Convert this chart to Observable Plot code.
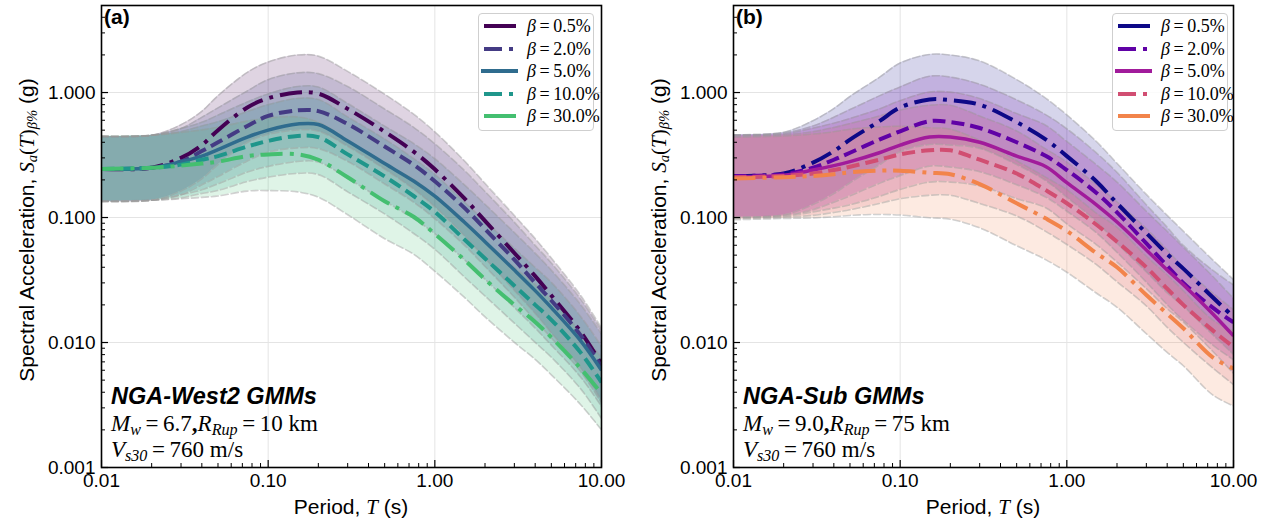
<!DOCTYPE html>
<html><head><meta charset="utf-8">
<script src="https://cdn.jsdelivr.net/npm/d3@7"></script>
<script src="https://cdn.jsdelivr.net/npm/@observablehq/plot@0.6"></script>
<style>
body{margin:0;background:#fff;}
#wrap{position:relative;width:1273px;height:523px;overflow:hidden;font-family:"Liberation Sans",Arial,sans-serif;color:#000;}
.panel{position:absolute;top:0;}
.ov{position:absolute;white-space:nowrap;line-height:1;}
.serif{font-family:"Liberation Serif","Times New Roman",serif;}
.mi{font-family:"Liberation Serif","Times New Roman",serif;font-style:italic;}
sub{font-size:0.7em;vertical-align:-0.22em;line-height:0;}
.legend{position:absolute;border:1px solid #cfcfcf;border-radius:4px;background:rgba(255,255,255,0.85);}
.legtxt{position:absolute;font-family:"Liberation Serif","Times New Roman",serif;font-size:18px;line-height:1;white-space:nowrap;}
</style></head>
<body><div id="wrap"></div>
<script>
// ---------- data ----------
const periods = [0.01,0.02,0.03,0.04,0.05,0.075,0.1,0.15,0.2,0.3,0.5,0.75,1,1.5,2,3,4,5,7.5,10];
const betaLabels = ["0.5%","2.0%","5.0%","10.0%","30.0%"];

// (a) NGA-West2 medians
const westB05  = [0.245,0.25,0.30,0.38,0.50,0.76,0.90,1.00,0.98,0.74,0.486,0.335,0.243,0.143,0.094,0.052,0.034,0.0238,0.0122,0.0067];
const westB20  = [0.245,0.25,0.28,0.34,0.40,0.54,0.65,0.72,0.71,0.56,0.37,0.263,0.195,0.12,0.081,0.046,0.030,0.0217,0.0114,0.0064];
const westB50  = [0.245,0.25,0.28,0.31,0.35,0.44,0.50,0.56,0.555,0.41,0.27,0.195,0.148,0.092,0.064,0.038,0.026,0.019,0.0103,0.006];
const westB100 = [0.245,0.25,0.265,0.29,0.31,0.37,0.41,0.45,0.44,0.32,0.213,0.148,0.111,0.067,0.047,0.0285,0.020,0.0152,0.0083,0.0048];
const westB300 = [0.245,0.25,0.26,0.27,0.28,0.31,0.32,0.32,0.29,0.21,0.135,0.101,0.074,0.046,0.032,0.020,0.0146,0.011,0.0062,0.0039];
// (a) log10 half-width of shaded bands
const westDisp = [0.26,0.26,0.265,0.27,0.275,0.28,0.29,0.3,0.3,0.3,0.3,0.3,0.3,0.3,0.3,0.3,0.3,0.3,0.29,0.29];

// (b) NGA-Sub medians
const subB05  = [0.215,0.225,0.275,0.34,0.42,0.59,0.76,0.88,0.87,0.80,0.58,0.42,0.31,0.195,0.13,0.075,0.051,0.039,0.023,0.016];
const subB20  = [0.215,0.222,0.25,0.29,0.33,0.42,0.49,0.59,0.58,0.52,0.40,0.31,0.24,0.158,0.11,0.062,0.041,0.03,0.019,0.0145];
const subB50  = [0.212,0.218,0.24,0.26,0.28,0.33,0.38,0.44,0.44,0.40,0.31,0.255,0.19,0.127,0.092,0.055,0.038,0.029,0.017,0.0113];
const subB100 = [0.21,0.215,0.225,0.24,0.255,0.29,0.32,0.345,0.345,0.29,0.225,0.165,0.13,0.088,0.064,0.04,0.027,0.02,0.0125,0.0092];
const subB300 = [0.205,0.21,0.215,0.222,0.23,0.237,0.237,0.228,0.222,0.185,0.13,0.098,0.078,0.052,0.04,0.024,0.017,0.013,0.0076,0.0062];
const subDisp = [0.33,0.33,0.335,0.34,0.345,0.35,0.355,0.36,0.36,0.35,0.34,0.33,0.33,0.32,0.32,0.31,0.31,0.3,0.3,0.3];

const xTickValues = [0.01,0.1,1,10];
const xTickLabels = ["0.01","0.10","1.00","10.00"];
const yTickValues = [0.001,0.01,0.1,1];
const yTickLabels = ["0.001","0.010","0.100","1.000"];

// ---------- styles ----------
const cmapPos = [0,0.175,0.35,0.525,0.7];
const westColors = cmapPos.map(t => d3.interpolateViridis(t));
const subColors = cmapPos.map(t => d3.interpolatePlasma(t));
const lineDash = ["22,7,4,7","13,6",null,"13,6","22,7,4,7"];
const lineWidth = [4,4,3.5,4,4];

function minorTicks(lo, hi){
  const out=[];
  for(let e=lo;e<hi;e++) for(let m=2;m<=9;m++) out.push(m*Math.pow(10,e));
  return out;
}
const xMinor = minorTicks(-2,1);
const yMinor = minorTicks(-3,1).filter(v => v < 5);

function makePanel(cfg){
  const rows=[];
  cfg.series.forEach((s,i)=>s.forEach((v,j)=>{
    const f=Math.pow(10,cfg.disp[j]);
    rows.push({T:periods[j],k:i,sa:v,lo:v/f,hi:v*f});
  }));
  const curve="catmull-rom";
  const marks=[
    Plot.gridX(xTickValues,{stroke:"#e4e4e4",strokeOpacity:1,strokeWidth:1}),
    Plot.gridY(yTickValues,{stroke:"#e4e4e4",strokeOpacity:1,strokeWidth:1})
  ];
  betaLabels.forEach((b,i)=>{
    const d=rows.filter(r=>r.k===i);
    marks.push(Plot.areaY(d,{x:"T",y1:"lo",y2:"hi",fill:cfg.colors[i],fillOpacity:0.17,curve}));
  });
  betaLabels.forEach((b,i)=>{
    const d=rows.filter(r=>r.k===i);
    for(const key of ["lo","hi"]){
      marks.push(Plot.lineY(d,{x:"T",y:key,stroke:"#9a9a9a",strokeOpacity:0.45,strokeWidth:1.6,strokeDasharray:"7,3",curve}));
    }
  });
  betaLabels.forEach((b,i)=>{
    const d=rows.filter(r=>r.k===i);
    marks.push(Plot.lineY(d,{x:"T",y:"sa",stroke:cfg.colors[i],strokeWidth:lineWidth[i],strokeDasharray:lineDash[i],strokeLinecap:"butt",curve}));
  });
  marks.push(
    Plot.axisX(xTickValues,{anchor:"bottom",tickSize:0,tickPadding:6,fontSize:19,label:null,tickFormat:d=>xTickLabels[xTickValues.indexOf(d)]}),
    Plot.axisX(xTickValues,{anchor:"bottom",tickSize:-7,tickFormat:()=>"",label:null,strokeWidth:1.2}),
    Plot.axisX(xMinor,{anchor:"bottom",tickSize:-4,tickFormat:()=>"",label:null}),
    Plot.axisY(yTickValues,{anchor:"left",tickSize:0,tickPadding:6,fontSize:19,label:null,tickFormat:d=>yTickLabels[yTickValues.indexOf(d)]}),
    Plot.axisY(yTickValues,{anchor:"left",tickSize:-7,tickFormat:()=>"",label:null,strokeWidth:1.2}),
    Plot.axisY(yMinor,{anchor:"left",tickSize:-4,tickFormat:()=>"",label:null}),
    Plot.frame({stroke:"#000",strokeWidth:1.6})
  );
  return Plot.plot({
    width:cfg.width,height:523,marginLeft:101,marginRight:cfg.marginRight,marginTop:5,marginBottom:56,
    style:{fontFamily:'"Liberation Sans",Arial,sans-serif',background:"transparent",color:"#000"},
    x:{type:"log",domain:[0.01,10]},
    y:{type:"log",domain:[0.001,4.97]},
    clip:true,
    marks
  });
}

const wrap=document.getElementById("wrap");
function addDiv(html, style, cls){
  const d=document.createElement("div");
  d.className=cls||"ov"; d.innerHTML=html; Object.assign(d.style,style); wrap.appendChild(d); return d;
}

const panels=[
  {left:0,width:636,marginRight:35,series:[westB05,westB20,westB50,westB100,westB300],disp:westDisp,colors:westColors,
   tag:"(a)",title:"NGA-West2 GMMs",line2:'<span class="mi">M</span><sub class="mi">w</sub>\u2009=\u20096.7<b>,</b><span class="mi">R</span><sub class="mi">Rup</sub>\u2009=\u200910 km',
   legLeft:478},
  {left:632,width:641,marginRight:40,series:[subB05,subB20,subB50,subB100,subB300],disp:subDisp,colors:subColors,
   tag:"(b)",title:"NGA-Sub GMMs",line2:'<span class="mi">M</span><sub class="mi">w</sub>\u2009=\u20099.0<b>,</b><span class="mi">R</span><sub class="mi">Rup</sub>\u2009=\u200975 km',
   legLeft:1112}
];

panels.forEach(p=>{
  const svg=makePanel(p);
  const holder=document.createElement("div");
  holder.className="panel"; holder.style.left=p.left+"px";
  holder.appendChild(svg); wrap.appendChild(holder);
  const fx=p.left+101; // frame left
  addDiv(p.tag,{left:(fx+3)+"px",top:"6px",fontSize:"21px",fontWeight:"bold"});
  addDiv(p.title,{left:(fx+10)+"px",top:"385px",fontSize:"23.5px",fontWeight:"bold",fontStyle:"italic"});
  addDiv(p.line2,{left:(fx+10)+"px",top:"412px",fontSize:"23px"},"ov serif");
  addDiv('<span class="mi">V</span><sub class="mi">s30</sub>\u2009=\u2009760 m/s',{left:(fx+10)+"px",top:"438px",fontSize:"23px"},"ov serif");
  // axis labels
  addDiv('Spectral Acceleration, <span class="mi">S</span><sub class="mi">a</sub><span class="serif">(</span><span class="mi">T</span><span class="serif">)</span><sub class="mi">β%</sub> (g)',
    {left:(p.left+27)+"px",top:"230px",fontSize:"21px",transform:"translate(-50%,-50%) rotate(-90deg)"});
  addDiv('Period, <span class="mi">T</span> (s)',{left:(fx+250)+"px",top:"507px",fontSize:"21px",transform:"translate(-50%,-50%)"});
  // legend
  const leg=document.createElement("div");
  leg.className="legend";
  Object.assign(leg.style,{left:p.legLeft+"px",top:"13px",width:"114px",height:"116px"});
  const legDash=[null,"18,7,4,40",null,"18,7,4,40",null];
  betaLabels.forEach((b,i)=>{
    const cy=12+22.5*i;
    const x1 = i===2 ? 2 : 5, x2 = i===2 ? 39 : 37;
    const s=`<svg width="44" height="10" style="position:absolute;left:0;top:${cy-5}px;overflow:visible">
      <line x1="${x1}" y1="5" x2="${x2}" y2="5" stroke="${p.colors[i]}" stroke-width="4" ${legDash[i]?`stroke-dasharray="${legDash[i]}"`:""}/></svg>`;
    const t=`<div class="legtxt" style="left:48px;top:${cy-9}px"><i>β</i>\u2009=\u2009${b}</div>`;
    leg.insertAdjacentHTML("beforeend",s+t);
  });
  wrap.appendChild(leg);
});
</script>
</body></html>
